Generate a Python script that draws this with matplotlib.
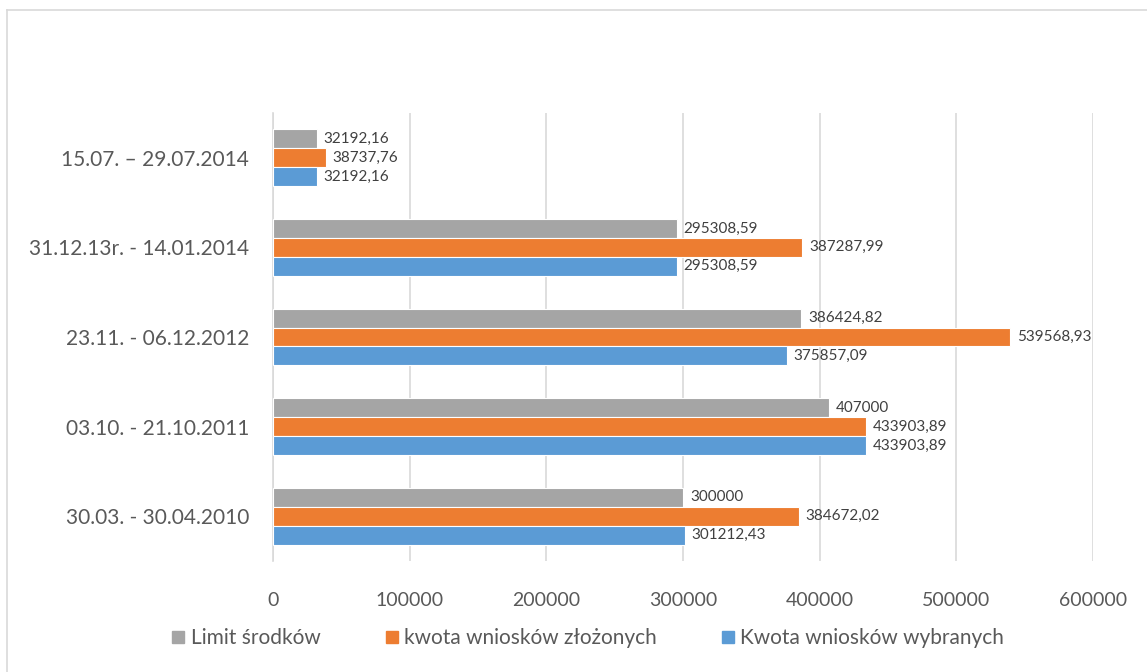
import matplotlib.pyplot as plt
import numpy as np
from matplotlib.lines import Line2D

plt.rcParams['font.family'] = ['Lato', 'DejaVu Sans']

categories = ["30.03. - 30.04.2010", "03.10. - 21.10.2011", "23.11. - 06.12.2012",
              "31.12.13r. - 14.01.2014", "15.07. \u2013 29.07.2014"]
limit = [300000, 407000, 386424.82, 295308.59, 32192.16]
zlozone = [384672.02, 433903.89, 539568.93, 387287.99, 38737.76]
wybrane = [301212.43, 433903.89, 375857.09, 295308.59, 32192.16]
series_names = ["Limit środków", "kwota wniosków złożonych", "Kwota wniosków wybranych"]
colors = ["#a5a5a5", "#ed7d31", "#5b9bd5"]

def fmt(v):
    if float(v).is_integer():
        return str(int(v))
    return ("%.2f" % v).replace(".", ",")

fig = plt.figure(figsize=(11.47, 6.72), dpi=100)
ax = fig.add_axes([0.238, 0.165, 0.715, 0.667])

y = np.arange(len(categories))
h = 0.21
for vals, off, c in [(limit, h, colors[0]), (zlozone, 0, colors[1]), (wybrane, -h, colors[2])]:
    bars = ax.barh(y + off, vals, height=h, color=c, edgecolor="white", linewidth=0.8, zorder=3)
    for b, v in zip(bars, vals):
        ax.text(b.get_width() + 5000, b.get_y() + b.get_height() / 2, fmt(v),
                va="center", ha="left", fontsize=11, color="#404040", zorder=4)

ax.set_xlim(0, 600000)
ax.set_ylim(-0.5, len(categories) - 0.5)
ax.set_xticks(np.arange(0, 600001, 100000))
ax.set_xticklabels([str(t) for t in range(0, 600001, 100000)])
ax.set_yticks(y)
ax.set_yticklabels(categories)
ax.tick_params(axis="x", length=0, labelsize=14, labelcolor="#595959", pad=22)
ax.tick_params(axis="y", length=0, labelsize=15, labelcolor="#595959", pad=17)
ax.grid(axis="x", color="#d9d9d9", linewidth=1.2, zorder=0)
for s in ["top", "right", "bottom"]:
    ax.spines[s].set_visible(False)
ax.spines["left"].set_color("#d9d9d9")
ax.spines["left"].set_linewidth(1.2)

handles = [Line2D([], [], marker="s", linestyle="none", markersize=8,
                  markerfacecolor=c, markeredgecolor=c) for c in colors]
fig.legend(handles, series_names, loc="center", bbox_to_anchor=(0.51, 0.05), ncol=3,
           frameon=False, fontsize=15, labelcolor="#595959", handletextpad=0.0,
           columnspacing=2.8, handlelength=1.2)

fig.add_artist(Line2D([0.006, 0.006], [0, 0.985], transform=fig.transFigure, color="#d9d9d9", lw=1.2))
fig.add_artist(Line2D([0.006, 1], [0.985, 0.985], transform=fig.transFigure, color="#d9d9d9", lw=1.2))

fig.savefig("out.png", dpi=100, facecolor="white")
